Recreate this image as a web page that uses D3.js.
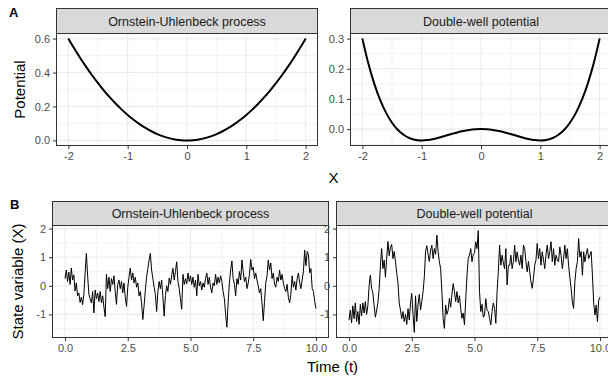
<!DOCTYPE html>
<html lang="en">
<head>
<meta charset="utf-8">
<title>Potentials and simulated paths</title>
<script src="https://cdn.jsdelivr.net/npm/d3@7"></script>
<style>
  body { margin: 0; background: #fff; }
  svg { display: block; font-family: "Liberation Sans", Arial, sans-serif; }
</style>
</head>
<body>
<svg width="608" height="381"></svg>
<script>
// ---- data ----
const potX = [-2.0, -1.9, -1.8, -1.7, -1.6, -1.5, -1.4, -1.3, -1.2, -1.1, -1.0, -0.9, -0.8, -0.7, -0.6, -0.5, -0.4, -0.3, -0.2, -0.1,
  0.0, 0.1, 0.2, 0.3, 0.4, 0.5, 0.6, 0.7, 0.8, 0.9, 1.0, 1.1, 1.2, 1.3, 1.4, 1.5, 1.6, 1.7, 1.8, 1.9, 2.0];
const ouPotential = [0.600, 0.5415, 0.486, 0.4335, 0.384, 0.3375, 0.294, 0.2535, 0.216, 0.1815, 0.150, 0.1215, 0.096, 0.0735, 0.054, 0.0375, 0.024, 0.0135, 0.006, 0.0015,
  0.0, 0.0015, 0.006, 0.0135, 0.024, 0.0375, 0.054, 0.0735, 0.096, 0.1215, 0.150, 0.1815, 0.216, 0.2535, 0.294, 0.3375, 0.384, 0.4335, 0.486, 0.5415, 0.600];
const dwPotential = [0.300, 0.218, 0.1507, 0.0965, 0.0538, 0.0211, -0.0029, -0.0196, -0.0302, -0.0358, -0.0375, -0.0361, -0.0326, -0.0277, -0.0221, -0.0164, -0.011, -0.0064, -0.0029, -0.0007,
  0.0, -0.0007, -0.0029, -0.0064, -0.011, -0.0164, -0.0221, -0.0277, -0.0326, -0.0361, -0.0375, -0.0358, -0.0302, -0.0196, -0.0029, 0.0211, 0.0538, 0.0965, 0.1507, 0.218, 0.300];

const timeStep = 0.05; // sampling of the paths, t = 0 .. 10
const ouPath = [
  0.25, 0.55, 0.15, 0.48, 0.05, 0.62, 0.20, 0.38, -0.18, 0.10, -0.35, -0.25, -0.58, -0.40, -0.66, -0.30, 0.45, 1.13, 0.35, -0.30,
  -0.45, -0.60, -0.20, -0.95, -0.15, -0.45, -0.25, -0.55, -0.20, -0.60, -0.35, -0.75, -1.08, 0.40, -0.10, 0.30, -0.20, 0.25, 0.05, 0.35,
  -0.20, -0.65, 0.05, 0.20, -0.10, 0.15, -0.25, 0.10, -0.40, -0.72, -0.05, 0.30, 0.62, 0.20, 0.45, 0.10, 0.30, -0.05, 0.10, -0.35,
  -0.20, -0.60, -1.18, -0.70, -0.15, 0.30, 0.60, 0.90, 1.13, 0.55, 0.25, -0.05, -0.30, -0.90, -0.20, 0.15, -0.10, 0.20, -0.40, -1.06,
  -0.35, 0.00, -0.20, 0.27, 0.05, 0.35, 0.61, 0.20, 0.50, 0.84, 0.15, -0.10, -0.45, -0.82, 0.40, 0.05, 0.25, 0.07, 0.45, 0.15,
  0.35, 0.05, 0.30, -0.05, 0.20, -0.35, 0.40, 0.00, 0.15, -0.15, 0.10, -0.05, 0.25, 0.45, 0.05, 0.30, -0.05, -0.25, 0.10, 0.00,
  0.40, 0.05, 0.30, 0.10, 0.35, 0.15, -0.20, -0.45, -1.00, -1.45, -0.60, 0.10, 0.55, 0.87, 0.25, 0.05, -0.35, 0.25, 0.05, 0.50,
  0.20, 0.90, 0.50, 0.15, 0.30, -0.10, 0.10, 0.40, 0.92, 0.55, 0.65, 0.25, 0.45, 0.20, 0.00, -0.25, -0.10, -0.60, -1.22, -0.55,
  0.10, 0.35, 0.90, 0.55, 0.80, 0.25, 0.45, 0.05, -0.05, 0.30, 0.15, 0.55, 0.20, 0.40, 0.10, -0.10, -0.20, 0.05, -0.40, -0.60,
  -0.30, 0.35, -0.05, 0.15, -0.15, 0.25, 0.45, 0.10, -0.10, 0.20, 0.50, 1.25, 0.70, 1.20, 1.10, 0.45, 0.60, -0.10, -0.20, -0.55,
  -0.80];
const dwPath = [
  -1.20, -0.85, -1.30, -0.70, -1.15, -0.60, -1.25, -0.90, -1.35, -0.65, -1.05, -0.60, -0.95, -0.55, -1.00, -0.70, 0.00, 0.37, -0.10, -0.25,
  -0.70, -1.10, -0.85, -0.60, -0.10, 0.70, 1.30, 0.60, 0.90, 0.30, 0.95, 1.55, 1.05, 1.35, 1.45, 0.95, 1.20, 0.85, 0.45, 0.10,
  -0.60, -0.85, -1.15, -0.90, -1.25, -1.00, -1.35, -0.80, -1.20, -0.60, -0.27, -1.00, -1.63, -0.35, -1.25, -0.67, -0.30, -0.85, -0.55, -0.20,
  0.30, 1.20, 1.40, 1.10, 0.85, 1.25, 1.42, 0.95, 1.30, 1.10, 1.77, 1.20, 0.84, 0.60, -0.20, -1.14, -1.49, -0.67, -1.00, -0.85,
  -0.44, -0.75, -0.30, 0.08, -0.20, -0.55, -0.20, -0.60, -0.35, -0.79, -1.14, -0.95, -1.37, -0.50, 0.35, 0.95, 1.07, 1.30, 0.84, 1.10,
  1.15, 1.54, 1.30, 1.93, -0.20, -0.90, -0.65, -1.10, -1.02, -0.45, -0.85, -0.90, -1.14, -1.37, -0.90, -0.60, -0.79, -1.31, -0.20, 0.50,
  1.42, 0.72, 1.07, 0.80, 0.60, 1.30, 0.03, 0.72, 0.72, 1.07, 0.60, 0.85, 1.42, 0.84, 1.19, 0.90, 0.72, 1.07, 0.60, 1.42,
  1.30, 0.84, 0.49, 0.85, 0.50, 0.14, -0.09, 0.26, 0.72, 0.90, 1.48, 0.95, 1.30, 0.72, 1.19, 0.90, 0.60, 1.10, 1.42, 0.95,
  1.20, 1.54, 0.84, 1.30, 0.72, 1.07, 0.90, 0.84, 1.36, 1.07, 0.60, 0.95, 1.42, 0.95, 1.30, 0.72, 0.30, -0.09, -0.56, -0.79,
  0.14, 0.60, 0.84, 1.65, 1.00, 1.20, 0.37, 1.19, 0.84, 1.10, 1.30, 0.95, 1.07, 1.20, 0.37, -0.60, -1.02, -0.67, -1.25, -0.50,
  -0.40];

const facetNames = ["Ornstein-Uhlenbeck process", "Double-well potential"];
const potXTicks = [-2, -1, 0, 1, 2];
const ouPotTicks = [0, 0.2, 0.4, 0.6];
const dwPotTicks = [0, 0.1, 0.2, 0.3];
const timeTicks = [0, 2.5, 5, 7.5, 10];
const stateTicks = [-1, 0, 1, 2];

// ---- helpers ----
const svg = d3.select('svg');
const expand = ([a, b]) => [a - (b - a) * 0.05, b + (b - a) * 0.05];
const minorOf = (ticks, domain) => {
  const step = ticks[1] - ticks[0];
  const out = [];
  for (let v = ticks[0] - step / 2; v <= domain[1]; v += step) {
    if (v >= domain[0]) out.push(v);
  }
  return out;
};
const plain = d => String(d);
const oneDec = d => d.toFixed(1);

function panel(opt) {
  const { left, top, width, height, strip, xDomain, yDomain, xTicks, yTicks, xFmt, yFmt, xs, ys, lw, curve } = opt;
  const x = d3.scaleLinear().domain(xDomain).range([left, left + width]);
  const y = d3.scaleLinear().domain(yDomain).range([top + height, top]);
  const g = svg.append('g');

  // strip
  g.append('rect')
    .attr('x', left).attr('y', top - strip.h)
    .attr('width', width).attr('height', strip.h)
    .attr('fill', '#D9D9D9').attr('stroke', '#333').attr('stroke-width', 1);
  g.append('text')
    .attr('x', left + width / 2)
    .attr('y', top - strip.h / 2)
    .attr('dy', '0.36em')
    .attr('text-anchor', 'middle')
    .attr('font-size', 12.5).attr('fill', '#1A1A1A')
    .text(strip.label);

  g.append('rect')
    .attr('x', left).attr('y', top).attr('width', width).attr('height', height)
    .attr('fill', '#fff');

  // grid
  const xMinor = minorOf(xTicks, xDomain);
  const yMinor = minorOf(yTicks, yDomain);
  const grid = g.append('g').attr('stroke', '#EBEBEB');
  grid.selectAll('.xm').data(xMinor).enter().append('line')
    .attr('x1', d => x(d)).attr('x2', d => x(d)).attr('y1', top).attr('y2', top + height).attr('stroke-width', 0.6);
  grid.selectAll('.ym').data(yMinor).enter().append('line')
    .attr('y1', d => y(d)).attr('y2', d => y(d)).attr('x1', left).attr('x2', left + width).attr('stroke-width', 0.6);
  grid.selectAll('.xM').data(xTicks).enter().append('line')
    .attr('x1', d => x(d)).attr('x2', d => x(d)).attr('y1', top).attr('y2', top + height).attr('stroke-width', 1.1);
  grid.selectAll('.yM').data(yTicks).enter().append('line')
    .attr('y1', d => y(d)).attr('y2', d => y(d)).attr('x1', left).attr('x2', left + width).attr('stroke-width', 1.1);

  // data line
  const line = d3.line().x((d, i) => x(xs[i])).y(d => y(d)).curve(curve || d3.curveLinear);
  g.append('path')
    .datum(ys)
    .attr('d', line)
    .attr('fill', 'none').attr('stroke', '#000')
    .attr('stroke-width', lw).attr('stroke-linejoin', 'round');

  g.append('rect')
    .attr('x', left).attr('y', top).attr('width', width).attr('height', height)
    .attr('fill', 'none').attr('stroke', '#333').attr('stroke-width', 1);

  // axes
  const xAxisG = g.append('g').attr('transform', `translate(0, ${top + height})`)
    .call(d3.axisBottom(x).tickValues(xTicks).tickFormat(xFmt).tickSizeInner(3.5).tickSizeOuter(0).tickPadding(3));
  const yAxisG = g.append('g').attr('transform', `translate(${left}, 0)`)
    .call(d3.axisLeft(y).tickValues(yTicks).tickFormat(yFmt).tickSizeInner(3.5).tickSizeOuter(0).tickPadding(3));
  [xAxisG, yAxisG].forEach(a => {
    a.select('.domain').remove();
    a.selectAll('.tick line').attr('stroke', '#333');
    a.selectAll('.tick text').attr('fill', '#4D4D4D').attr('font-size', 11)
      .attr('font-family', '"Liberation Sans", Arial, sans-serif');
  });
}

const timeX = ouPath.map((d, i) => +(i * timeStep).toFixed(2));

// ---- panel A ----
panel({ left: 56.5, top: 33.5, width: 261, height: 112, strip: { h: 25, label: facetNames[0] },
  xDomain: expand([-2, 2]), yDomain: expand(d3.extent(ouPotential)),
  xTicks: potXTicks, yTicks: ouPotTicks, xFmt: plain, yFmt: oneDec,
  xs: potX, ys: ouPotential, lw: 2, curve: d3.curveMonotoneX });
panel({ left: 350.5, top: 33.5, width: 261, height: 112, strip: { h: 25, label: facetNames[1] },
  xDomain: expand([-2, 2]), yDomain: expand(d3.extent(dwPotential)),
  xTicks: potXTicks, yTicks: dwPotTicks, xFmt: plain, yFmt: oneDec,
  xs: potX, ys: dwPotential, lw: 2, curve: d3.curveMonotoneX });

// ---- panel B (shared y) ----
const stateDomain = expand(d3.extent(ouPath.concat(dwPath)));
panel({ left: 52.5, top: 225.5, width: 276, height: 112, strip: { h: 24, label: facetNames[0] },
  xDomain: expand([0, 10]), yDomain: stateDomain,
  xTicks: timeTicks, yTicks: stateTicks, xFmt: oneDec, yFmt: plain,
  xs: timeX, ys: ouPath, lw: 1 });
panel({ left: 336.5, top: 225.5, width: 276, height: 112, strip: { h: 24, label: facetNames[1] },
  xDomain: expand([0, 10]), yDomain: stateDomain,
  xTicks: timeTicks, yTicks: stateTicks, xFmt: oneDec, yFmt: plain,
  xs: timeX, ys: dwPath, lw: 1 });

// ---- titles ----
const title = (txt, x, y, rot, size) => svg.append('text')
  .attr('transform', `translate(${x}, ${y}) rotate(${rot})`)
  .attr('text-anchor', 'middle')
  .attr('font-size', size)
  .attr('fill', '#000').text(txt);

title('X', 333.5, 183, 0, 15);
title('Potential', 24.5, 89.5, -90, 15);
title('Time (t)', 332.5, 372, 0, 15);
title('State variable (X)', 23, 281.5, -90, 15);
svg.append('text').attr('x', 9).attr('y', 17).attr('font-size', 13).attr('font-weight', 'bold').text('A');
svg.append('text').attr('x', 10).attr('y', 209).attr('font-size', 13).attr('font-weight', 'bold').text('B');
</script>
</body>
</html>
